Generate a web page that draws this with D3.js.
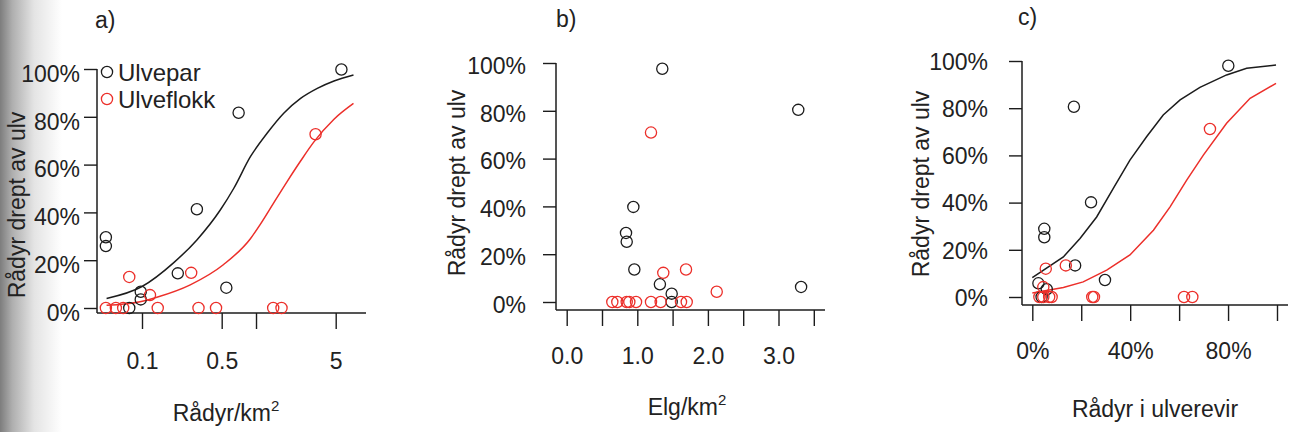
<!DOCTYPE html>
<html>
<head>
<meta charset="utf-8">
<script src="https://cdn.jsdelivr.net/npm/d3@7"></script>
<style>
  body { margin: 0; background: #fff; }
  text { font-family: "Liberation Sans", Arial, sans-serif; fill: #222; }
</style>
</head>
<body>
<div id="chart"></div>
<script>

// ---- data ----
// panel a) : x = rådyr per km2 (log), y = share of roe deer killed by wolf
var aPar = [[0.0482, 0.296], [0.0482, 0.259], [0.0773, 0], [0.0975, 0.068], [0.0975, 0.036],
  [0.206, 0.145], [0.303, 0.413], [0.549, 0.085], [0.704, 0.817], [5.61, 0.998]];
var aFlokk = [[0.0482, 0], [0.059, 0], [0.0684, 0], [0.0773, 0.13], [0.1175, 0.054], [0.1374, 0],
  [0.270, 0.147], [0.313, 0], [0.446, 0], [1.415, 0], [1.674, 0], [3.33, 0.727]];
var aParFit = [[0.0489, 0.04], [0.1, 0.09], [0.19, 0.19], [0.303, 0.285], [0.486, 0.41], [0.637, 0.5],
  [0.893, 0.633], [1.25, 0.731], [1.75, 0.815], [2.46, 0.877], [3.45, 0.919], [4.83, 0.95], [7.16, 0.975]];
var aFlokkFit = [[0.0489, 0.011], [0.096, 0.026], [0.135, 0.045], [0.265, 0.097], [0.52, 0.182],
  [0.893, 0.29], [1.09, 0.35], [1.43, 0.44], [1.88, 0.53], [2.46, 0.615], [3.22, 0.695], [4.83, 0.79], [7.16, 0.856]];
var aTicks = [0.1, 0.5, 1, 5];
var aTickLabels = ["0.1", "0.5", "", "5"];

// panel b) : x = elg per km2
var bPar = [[1.354, 0.976], [0.944, 0.398], [0.84, 0.289], [0.85, 0.252], [0.958, 0.136], [1.32, 0.074],
  [1.487, 0.035], [1.487, 0], [3.28, 0.804], [3.32, 0.063]];
var bFlokk = [[1.194, 0.709], [1.368, 0.122], [1.69, 0.136], [2.125, 0.043], [0.646, 0], [0.717, 0], [0.85, 0],
  [0.887, 0], [0.982, 0], [1.194, 0], [1.331, 0], [1.619, 0], [1.70, 0]];
var bTicks = [0, 0.5, 1, 1.5, 2, 2.5, 3, 3.5];
var bTickLabels = ["0.0", "", "1.0", "", "2.0", "", "3.0", ""];

// panel c) : x = share of roe deer in the wolf territory
var cPar = [[0.801, 0.98], [0.170, 0.806], [0.240, 0.401], [0.049, 0.289], [0.049, 0.253], [0.175, 0.134],
  [0.297, 0.072], [0.025, 0.058], [0.059, 0.033], [0.038, 0]];
var cFlokk = [[0.055, 0.12], [0.137, 0.134], [0.726, 0.712], [0.045, 0.042], [0.029, 0], [0.045, 0], [0.069, 0],
  [0.079, 0], [0.245, 0], [0.252, 0], [0.62, 0], [0.654, 0]];
var cParFit = [[0, 0.082], [0.127, 0.17], [0.195, 0.248], [0.263, 0.339], [0.331, 0.46], [0.399, 0.58],
  [0.467, 0.679], [0.535, 0.771], [0.604, 0.835], [0.685, 0.888], [0.794, 0.941], [0.876, 0.969], [0.996, 0.983]];
var cFlokkFit = [[0, 0.017], [0.127, 0.04], [0.208, 0.064], [0.304, 0.114], [0.399, 0.178], [0.495, 0.283],
  [0.563, 0.382], [0.631, 0.495], [0.699, 0.601], [0.794, 0.736], [0.89, 0.842], [0.996, 0.905]];
var cTicks = [0, 0.2, 0.4, 0.6, 0.8, 1];
var cTickLabels = ["0%", "", "40%", "", "80%", ""];

var yTicks = [0, 0.2, 0.4, 0.6, 0.8, 1];
var legendKeys = ["Ulvepar", "Ulveflokk"];

var black = "#1c1c1c", red = "#ec2f2a";

var width = 1290, height = 432;

var svg = d3.select("#chart")
  .append("svg")
  .attr("width", width)
  .attr("height", height);

// scanned-page shading on the left edge
var grad = svg.append("defs").append("linearGradient").attr("id", "edge");
grad.append("stop").attr("offset", "0").attr("stop-color", "rgb(125,125,125)");
grad.append("stop").attr("offset", "0.2").attr("stop-color", "rgb(175,175,175)");
grad.append("stop").attr("offset", "0.55").attr("stop-color", "rgb(228,228,228)");
grad.append("stop").attr("offset", "1").attr("stop-color", "#fff");
svg.append("rect").attr("x", 0).attr("y", 0).attr("width", 62).attr("height", height).attr("fill", "url(#edge)");

function panel(p) {
  var g = svg.append("g");

  var x = p.x, y = p.y;

  // y axis
  var yAxis = d3.axisLeft(y)
    .tickValues(yTicks)
    .tickFormat(d3.format(".0%"))
    .tickSize(13)
    .tickPadding(p.yPad)
    .tickSizeOuter(0);

  var ya = g.append("g")
    .attr("transform", "translate(" + p.axisX + ",0)")
    .call(yAxis);
  ya.select(".domain").remove();
  ya.selectAll("line").attr("stroke", black).attr("stroke-width", 1.4);
  ya.selectAll("text")
    .attr("dy", (0.32 * 23 + p.yLabelShift) + "px")
    .style("font-size", "23px")
    .attr("fill", "#222");

  // x axis
  var xAxis = d3.axisBottom(x)
    .tickValues(p.xTicks)
    .tickFormat(function (d, i) { return p.xLabels[i]; })
    .tickSize(16)
    .tickPadding(p.xPad)
    .tickSizeOuter(0);

  var xa = g.append("g")
    .attr("transform", "translate(0," + p.axisY + ")")
    .call(xAxis);
  xa.select(".domain").remove();
  xa.selectAll("line").attr("stroke", black).attr("stroke-width", 1.4);
  xa.selectAll("text")
    .style("font-size", "23px")
    .attr("fill", "#222");

  // L-shaped box
  g.append("line")
    .attr("x1", p.axisX).attr("x2", p.axisX)
    .attr("y1", y(1)).attr("y2", p.axisY)
    .attr("stroke", black).attr("stroke-width", 1.5);
  g.append("line")
    .attr("x1", p.axisX).attr("x2", p.boxRight)
    .attr("y1", p.axisY).attr("y2", p.axisY)
    .attr("stroke", black).attr("stroke-width", 1.5);

  // fitted curves
  var line = d3.line()
    .x(function (d) { return x(d[0]); })
    .y(function (d) { return y(d[1]); })
    .curve(p.curve);

  if (p.fits) {
    p.fits.forEach(function (f) {
      g.append("path")
        .attr("d", line(f.data))
        .attr("fill", "none")
        .attr("stroke", f.color)
        .attr("stroke-width", 1.5);
    });
  }

  // points
  p.points.forEach(function (s) {
    g.selectAll(null)
      .data(s.data)
      .enter()
      .append("circle")
      .attr("cx", function (d) { return x(d[0]); })
      .attr("cy", function (d) { return y(d[1]); })
      .attr("r", 5.6)
      .attr("fill", "none")
      .attr("stroke", s.color)
      .attr("stroke-width", 1.3);
  });

  // panel letter
  g.append("text")
    .attr("x", p.letterX)
    .attr("y", p.letterY)
    .style("font-size", "23px")
    .text(p.letter);

  // y title
  g.append("text")
    .attr("transform", "translate(" + p.yTitleX + "," + p.yTitleY + ") rotate(-90)")
    .attr("text-anchor", "middle")
    .style("font-size", "23px")
    .text("Rådyr drept av ulv");

  // x title
  var xt = g.append("text")
    .attr("x", p.xTitleX)
    .attr("y", p.xTitleY)
    .attr("text-anchor", "middle")
    .style("font-size", "23px")
    .text(p.xTitle);
  if (p.sup) {
    xt.append("tspan")
      .attr("dy", "-10")
      .style("font-size", "15px")
      .text(p.sup);
  }

  return g;
}

// a)
var ga = panel({
  x: d3.scaleLog().domain([0.1, 5]).range([142, 335.7]),
  y: d3.scaleLinear().domain([0, 1]).range([308, 69]),
  axisX: 97, axisY: 313, boxRight: 366,
  yPad: 4, yLabelShift: 5, xPad: 24,
  xTicks: aTicks, xLabels: aTickLabels,
  curve: d3.curveMonotoneX,
  fits: [{ data: aParFit, color: black }, { data: aFlokkFit, color: red }],
  points: [{ data: aPar, color: black }, { data: aFlokk, color: red }],
  letter: "a)", letterX: 95, letterY: 28,
  yTitleX: 25, yTitleY: 205,
  xTitle: "Rådyr/km", sup: "2", xTitleX: 226, xTitleY: 421
});

// legend inside a)
legendKeys.forEach(function (k, i) {
  var cy = 72 + i * 27;
  ga.append("circle")
    .attr("cx", 107).attr("cy", cy).attr("r", 5.6)
    .attr("fill", "none")
    .attr("stroke", i === 0 ? black : red)
    .attr("stroke-width", 1.3);
  ga.append("text")
    .attr("x", 118).attr("y", cy + 8.5)
    .style("font-size", "24px")
    .text(k);
});

// b)
panel({
  x: d3.scaleLinear().domain([0, 1]).range([566.7, 637.3]),
  y: d3.scaleLinear().domain([0, 1]).range([302, 63]),
  axisX: 556, axisY: 310, boxRight: 825,
  yPad: 17, yLabelShift: 3, xPad: 22,
  xTicks: bTicks, xLabels: bTickLabels,
  curve: d3.curveLinear,
  fits: null,
  points: [{ data: bPar, color: black }, { data: bFlokk, color: red }],
  letter: "b)", letterX: 556, letterY: 27,
  yTitleX: 465, yTitleY: 183,
  xTitle: "Elg/km", sup: "2", xTitleX: 687, xTitleY: 415
});

// c)
panel({
  x: d3.scaleLinear().domain([0, 1]).range([1032.3, 1277]),
  y: d3.scaleLinear().domain([0, 1]).range([297, 61]),
  axisX: 1022, axisY: 305, boxRight: 1288,
  yPad: 21, yLabelShift: 1, xPad: 22,
  xTicks: cTicks, xLabels: cTickLabels,
  curve: d3.curveLinear,
  fits: [{ data: cParFit, color: black }, { data: cFlokkFit, color: red }],
  points: [{ data: cPar, color: black }, { data: cFlokk, color: red }],
  letter: "c)", letterX: 1018, letterY: 25,
  yTitleX: 929, yTitleY: 184,
  xTitle: "Rådyr i ulverevir", sup: null, xTitleX: 1155, xTitleY: 417
});

</script>
</body>
</html>
